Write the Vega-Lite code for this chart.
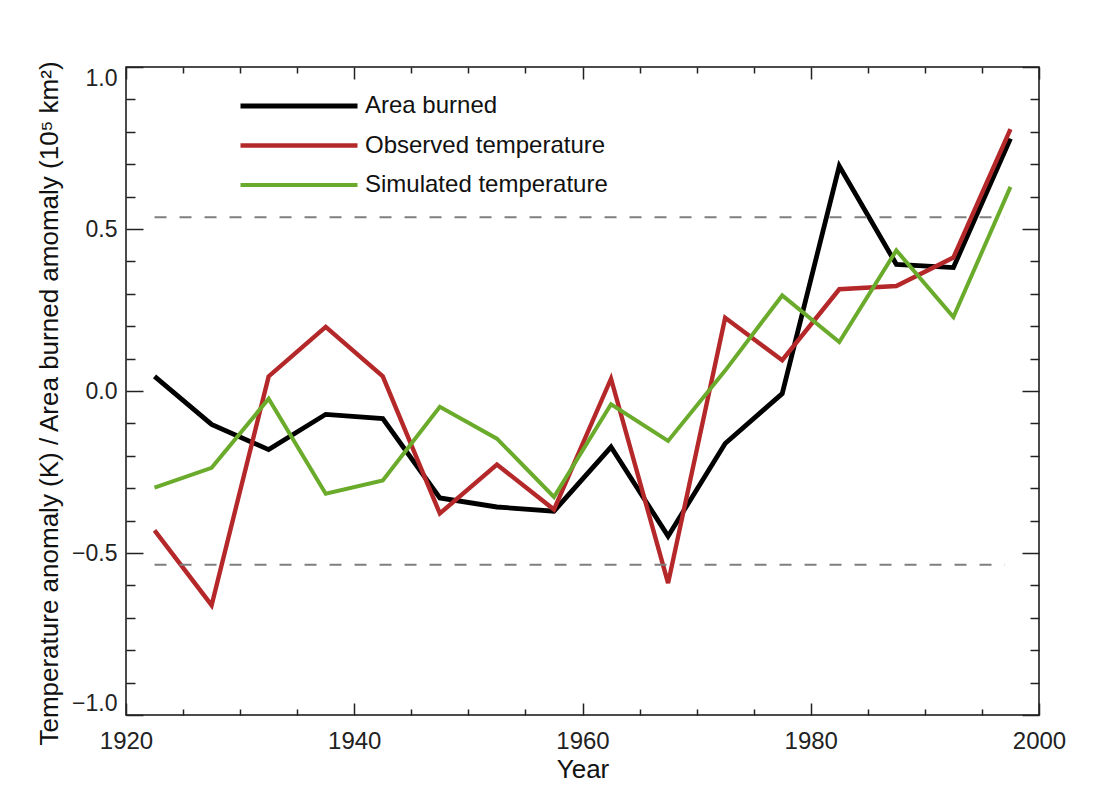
{
  "$schema": "https://vega.github.io/schema/vega-lite/v6.json",
  "autosize": "none",
  "width": 913,
  "height": 648,
  "padding": {"left": 126, "top": 67, "right": 54, "bottom": 86},
  "background": "white",
  "datasets": {
    "series": [
      {"year": 1922.5, "series": "Area burned", "value": 0.045},
      {"year": 1927.5, "series": "Area burned", "value": -0.103},
      {"year": 1932.5, "series": "Area burned", "value": -0.181},
      {"year": 1937.5, "series": "Area burned", "value": -0.072},
      {"year": 1942.5, "series": "Area burned", "value": -0.085},
      {"year": 1947.5, "series": "Area burned", "value": -0.33},
      {"year": 1952.5, "series": "Area burned", "value": -0.358},
      {"year": 1957.5, "series": "Area burned", "value": -0.371},
      {"year": 1962.5, "series": "Area burned", "value": -0.173},
      {"year": 1967.5, "series": "Area burned", "value": -0.448},
      {"year": 1972.5, "series": "Area burned", "value": -0.162},
      {"year": 1977.5, "series": "Area burned", "value": -0.008},
      {"year": 1982.5, "series": "Area burned", "value": 0.694},
      {"year": 1987.5, "series": "Area burned", "value": 0.391},
      {"year": 1992.5, "series": "Area burned", "value": 0.381},
      {"year": 1997.5, "series": "Area burned", "value": 0.779},
      {"year": 1922.5, "series": "Observed temperature", "value": -0.43},
      {"year": 1927.5, "series": "Observed temperature", "value": -0.661},
      {"year": 1932.5, "series": "Observed temperature", "value": 0.045},
      {"year": 1937.5, "series": "Observed temperature", "value": 0.198},
      {"year": 1942.5, "series": "Observed temperature", "value": 0.045},
      {"year": 1947.5, "series": "Observed temperature", "value": -0.378},
      {"year": 1952.5, "series": "Observed temperature", "value": -0.227},
      {"year": 1957.5, "series": "Observed temperature", "value": -0.366},
      {"year": 1962.5, "series": "Observed temperature", "value": 0.038},
      {"year": 1967.5, "series": "Observed temperature", "value": -0.593},
      {"year": 1972.5, "series": "Observed temperature", "value": 0.226},
      {"year": 1977.5, "series": "Observed temperature", "value": 0.095},
      {"year": 1982.5, "series": "Observed temperature", "value": 0.314},
      {"year": 1987.5, "series": "Observed temperature", "value": 0.324},
      {"year": 1992.5, "series": "Observed temperature", "value": 0.412},
      {"year": 1997.5, "series": "Observed temperature", "value": 0.808},
      {"year": 1922.5, "series": "Simulated temperature", "value": -0.298},
      {"year": 1927.5, "series": "Simulated temperature", "value": -0.237},
      {"year": 1932.5, "series": "Simulated temperature", "value": -0.024},
      {"year": 1937.5, "series": "Simulated temperature", "value": -0.317},
      {"year": 1942.5, "series": "Simulated temperature", "value": -0.276},
      {"year": 1947.5, "series": "Simulated temperature", "value": -0.049},
      {"year": 1952.5, "series": "Simulated temperature", "value": -0.147},
      {"year": 1957.5, "series": "Simulated temperature", "value": -0.327},
      {"year": 1962.5, "series": "Simulated temperature", "value": -0.041},
      {"year": 1967.5, "series": "Simulated temperature", "value": -0.154},
      {"year": 1972.5, "series": "Simulated temperature", "value": 0.063},
      {"year": 1977.5, "series": "Simulated temperature", "value": 0.295},
      {"year": 1982.5, "series": "Simulated temperature", "value": 0.151},
      {"year": 1987.5, "series": "Simulated temperature", "value": 0.434},
      {"year": 1992.5, "series": "Simulated temperature", "value": 0.228},
      {"year": 1997.5, "series": "Simulated temperature", "value": 0.63}
    ],
    "thresholds": [
      {"start": 1922.5, "end": 1997, "level": 0.536},
      {"start": 1922.5, "end": 1997, "level": -0.536}
    ]
  },
  "layer": [
    {
      "data": {"name": "series"},
      "mark": {"type": "line", "strokeJoin": "miter", "strokeCap": "butt"},
      "encoding": {
        "x": {
          "field": "year", "type": "quantitative",
          "scale": {"domain": [1920, 2000], "nice": false, "zero": false},
          "axis": {
            "orient": "bottom",
            "title": "Year",
            "values": [1920,1925,1930,1935,1940,1945,1950,1955,1960,1965,1970,1975,1980,1985,1990,1995,2000],
            "format": "d",
            "labelExpr": "datum.value % 20 === 0 ? datum.label : ''",
            "labelFlush": false,
            "labelFontSize": 24,
            "tickSize": {"condition": {"test": "datum.value % 20 === 0", "value": -12}, "value": -6},
            "labelPadding": 26,
            "titlePadding": 3
          }
        },
        "y": {
          "field": "value", "type": "quantitative",
          "scale": {"domain": [-1, 1], "nice": false, "zero": false},
          "axis": {
            "orient": "left",
            "title": "Temperature anomaly (K) / Area burned amomaly (10⁵ km²)",
            "values": [-1,-0.9,-0.8,-0.7,-0.6,-0.5,-0.4,-0.3,-0.2,-0.1,0,0.1,0.2,0.3,0.4,0.5,0.6,0.7,0.8,0.9,1],
            "format": ".1f",
            "labelExpr": "abs(datum.value*2 - round(datum.value*2)) < 0.001 ? datum.label : ''",
            "tickSize": {"condition": {"test": "abs(datum.value*2 - round(datum.value*2)) < 0.001", "value": -17}, "value": -9},
            "labelPadding": 26,
            "labelFlush": true,
            "titlePadding": 9,
            "titleY": 336
          }
        },
        "color": {
          "field": "series", "type": "nominal",
          "scale": {"domain": ["Area burned", "Observed temperature", "Simulated temperature"], "range": ["#000000", "#b5282a", "#6aab2c"]},
          "legend": {"title": null}
        },
        "strokeWidth": {
          "field": "series", "type": "nominal",
          "scale": {"domain": ["Area burned", "Observed temperature", "Simulated temperature"], "range": [4.8, 4, 4]},
          "legend": {"title": null}
        }
      }
    },
    {
      "data": {"name": "thresholds"},
      "mark": {"type": "rule", "color": "#7f7f7f", "strokeWidth": 2, "strokeDash": [12, 13]},
      "encoding": {
        "x": {
          "field": "start", "type": "quantitative",
          "axis": {
            "orient": "top", "title": null, "labels": false,
            "values": [1920,1925,1930,1935,1940,1945,1950,1955,1960,1965,1970,1975,1980,1985,1990,1995,2000],
            "tickSize": {"condition": {"test": "datum.value % 20 === 0", "value": -12}, "value": -6}
          }
        },
        "x2": {"field": "end"},
        "y": {
          "field": "level", "type": "quantitative",
          "axis": {
            "orient": "right", "title": null, "labels": false,
            "values": [-1,-0.9,-0.8,-0.7,-0.6,-0.5,-0.4,-0.3,-0.2,-0.1,0,0.1,0.2,0.3,0.4,0.5,0.6,0.7,0.8,0.9,1],
            "tickSize": {"condition": {"test": "abs(datum.value*2 - round(datum.value*2)) < 0.001", "value": -17}, "value": -9}
          }
        }
      }
    }
  ],
  "resolve": {"axis": {"x": "independent", "y": "independent"}},
  "config": {
    "font": "Liberation Sans",
    "view": {"stroke": "#111111", "strokeWidth": 1.5},
    "axis": {
      "grid": false,
      "domain": false,
      "labelFont": "Liberation Sans",
      "titleFont": "Liberation Sans",
      "labelFontSize": 23,
      "titleFontSize": 26,
      "labelColor": "#222222",
      "titleColor": "#111111",
      "titleFontWeight": "normal",
      "tickColor": "#222222",
      "tickWidth": 1.5
    },
    "legend": {
      "orient": "none",
      "legendX": 112,
      "legendY": 27,
      "padding": 0,
      "symbolType": "stroke",
      "symbolSize": 13689,
      "clipHeight": 24,
      "rowPadding": 15.5,
      "labelOffset": 5,
      "labelFont": "Liberation Sans",
      "labelFontSize": 24,
      "labelColor": "#111111",
      "labelLimit": 400
    }
  }
}
